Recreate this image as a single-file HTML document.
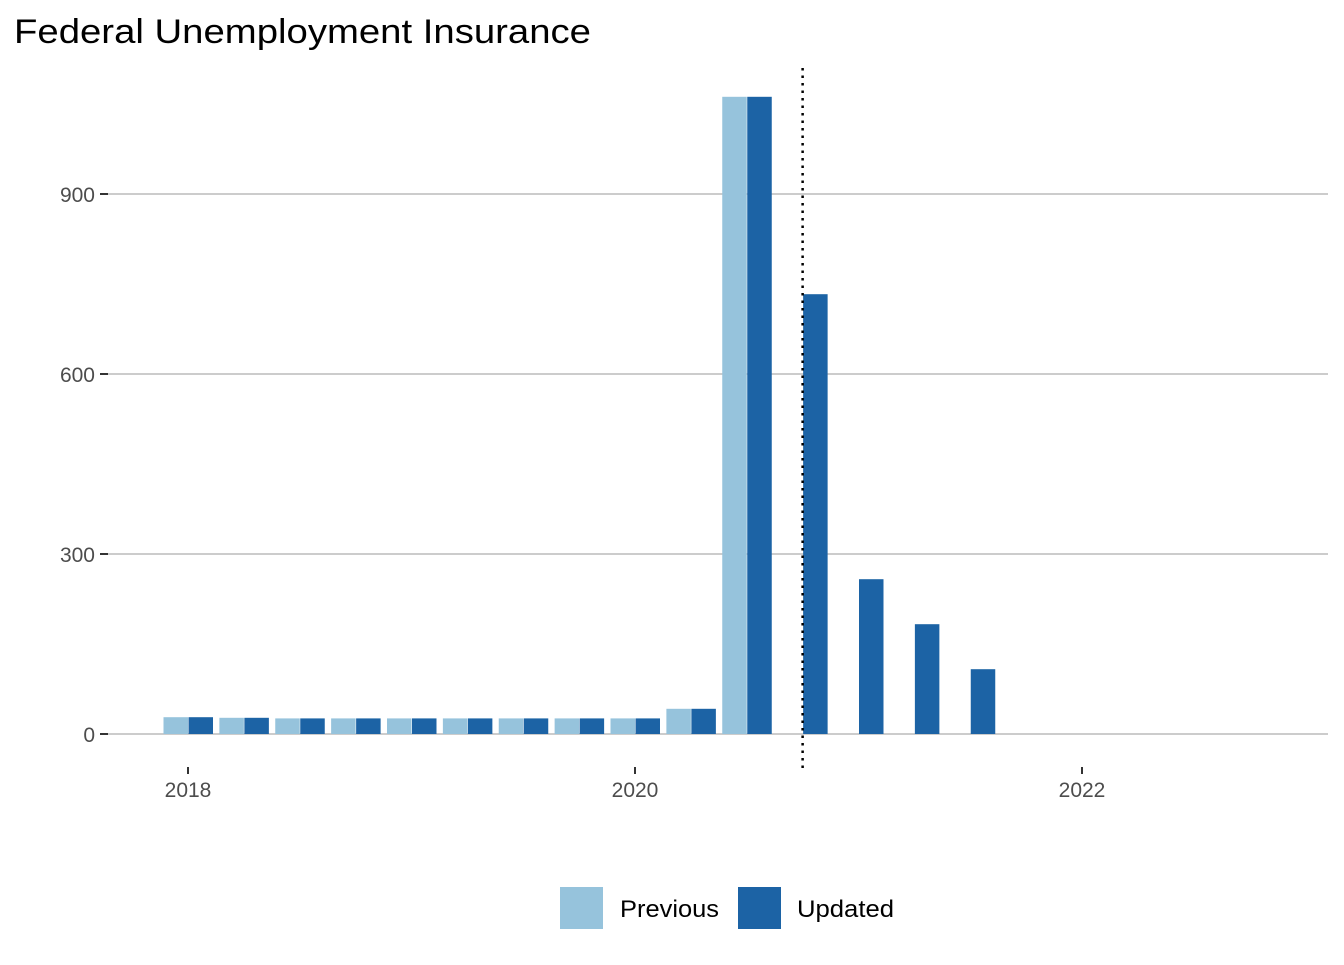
<!DOCTYPE html>
<html><head><meta charset="utf-8"><style>
body{margin:0;background:#fff;font-family:"Liberation Sans",Arial,sans-serif}
svg text{font-family:"Liberation Sans",Arial,sans-serif}
</style></head><body>
<svg id="c" width="1344" height="960" xmlns="http://www.w3.org/2000/svg">
<text x="14" y="43" font-size="34" textLength="577" lengthAdjust="spacingAndGlyphs" fill="#000">Federal Unemployment Insurance</text>
<g id="grid"></g><g id="bars"></g><g id="axes"></g>
<g>
<rect x="560" y="887" width="43" height="42" fill="#96c3dc"/>
<text x="620" y="917" font-size="24" textLength="99" lengthAdjust="spacingAndGlyphs" fill="#000">Previous</text>
<rect x="738" y="887" width="43" height="42" fill="#1c63a5"/>
<text x="797" y="917" font-size="24" textLength="97" lengthAdjust="spacingAndGlyphs" fill="#000">Updated</text>
</g>
</svg>
<script>
const quarters=[2018,2018.25,2018.5,2018.75,2019,2019.25,2019.5,2019.75,2020,2020.25,2020.5,2020.75,2021,2021.25,2021.5,2021.75,2022,2022.25,2022.5,2022.75];
const previous=[28,27,26,26,26,26,26,26,26,42,1062,null,null,null,null,null,null,null,null,null];
const updated=[28,27,26,26,26,26,26,26,26,42,1062,733,258,183,108,0,0,0,0,0];
const yTicks=[0,300,600,900];
const xTicks=[2018,2020,2022];
const cutoff=2020.75;
const X=v=>188+(v-2018)*223.5;
const Y=v=>734-v*0.6;
const ns="http://www.w3.org/2000/svg";
function mk(t,a,p){const e=document.createElementNS(ns,t);for(const k in a)e.setAttribute(k,a[k]);p.appendChild(e);return e;}
const grid=document.getElementById('grid'),bars=document.getElementById('bars'),axes=document.getElementById('axes');
yTicks.forEach(v=>{
 const l=mk('line',{x1:108,x2:1328,y1:Y(v),y2:Y(v),stroke:'#cccccc','stroke-width':2},grid);
 
 
 const t=mk('line',{x1:100,x2:108,y1:Y(v),y2:Y(v),stroke:'#333','stroke-width':2},axes);
 
 
 const tx=mk('text',{x:95,y:Y(v)+8,'text-anchor':'end','font-size':21,fill:'#4d4d4d'},axes);
 tx.textContent=v;
 
 
});
xTicks.forEach(v=>{
 const t=mk('line',{x1:X(v),x2:X(v),y1:767,y2:774,stroke:'#333','stroke-width':2},axes);
 
 
 const tx=mk('text',{x:X(v),y:797,'text-anchor':'middle','font-size':21,fill:'#4d4d4d'},axes);
 tx.textContent=v;
 
 
});
const bw=24.5;
quarters.forEach((q,i)=>{
 if(previous[i]!=null){
  const r=mk('rect',{x:X(q)-bw,y:Y(previous[i]),width:bw,height:734-Y(previous[i]),fill:'#96c3dc'},bars);
  
  
 }
 if(updated[i]!=null && updated[i]>0){
  const r=mk('rect',{x:X(q)+0.5,y:Y(updated[i]),width:bw,height:734-Y(updated[i]),fill:'#1c63a5'},bars);
  
  
 }
});
const d=mk('line',{x1:X(cutoff),x2:X(cutoff),y1:68,y2:768,stroke:'#000','stroke-width':2.5,'stroke-dasharray':'2.5,5'},axes);


</script>
</body></html>
